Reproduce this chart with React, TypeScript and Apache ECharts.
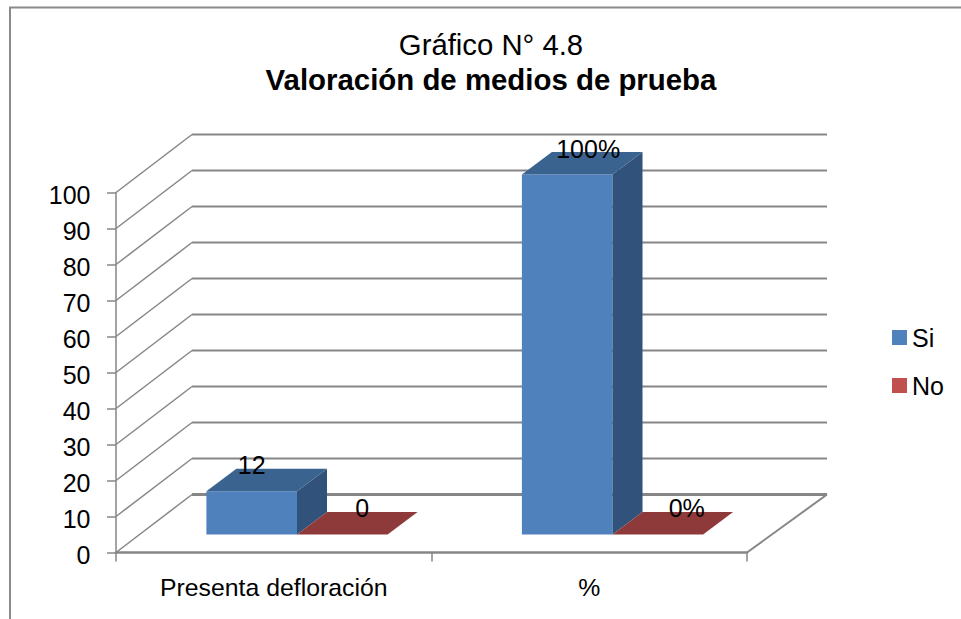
import React, { useEffect, useRef } from "react";
import * as echarts from "echarts";

const categories = ["Presenta defloración", "%"];
const seriesNames = ["Si", "No"];
const siValues = [12, 100];
const noValues = [0, 0];
const siLabels = ["12", "100%"];
const noLabels = ["0", "0%"];
const yTicks = [0, 10, 20, 30, 40, 50, 60, 70, 80, 90, 100];
const titleLine1 = "Gráfico N° 4.8";
const titleLine2 = "Valoración de medios de prueba";

const FONT = '"Liberation Sans", Arial, sans-serif';
const GRID = "#868686";
const WALL_DX = 76;
const WALL_DY = -58;
const WALL_R_EXTRA = 4;
const BASE_DX = 24;
const BASE_DY = -18;
const BAR_DX = 30;
const BAR_DY = -22.5;
const GAP = 66.4;
const BAR_W = 90.6;
const LABEL_SIZE = 25;

const wallItem = (params: any, api: any) => {
  const cs = params.coordSys;
  const v = api.value(1);
  const y = api.coord([0, v])[1];
  const l = cs.x;
  const r = cs.x + cs.width;
  const lineStyle = { stroke: GRID, lineWidth: v === 0 ? 3 : 2, fill: "none" };
  const children: any[] = [
    { type: "line", shape: { x1: l, y1: y, x2: l + WALL_DX, y2: y + WALL_DY }, style: { stroke: GRID, lineWidth: 1.5 } },
    { type: "line", shape: { x1: l + WALL_DX, y1: y + WALL_DY, x2: r + WALL_DX + WALL_R_EXTRA, y2: y + WALL_DY }, style: lineStyle },
  ];
  if (v === 0) {
    children.push({ type: "line", shape: { x1: r, y1: y, x2: r + WALL_DX + WALL_R_EXTRA, y2: y + WALL_DY }, style: { stroke: GRID, lineWidth: 2 } });
  }
  return { type: "group", children };
};

const barItem = (slot: number, front: string, top: string, side: string, labels: string[], labelDx: number[], labelDy: number[]) => (params: any, api: any) => {
  const i = params.dataIndex;
  const val = api.value(1);
  const c0 = api.coord([i, 0]);
  const c1 = api.coord([i, val]);
  const band = api.size([1, 0])[0];
  const x0 = c0[0] - band / 2 + BASE_DX + GAP + slot * BAR_W;
  const x1 = x0 + BAR_W;
  const yb = c0[1] + BASE_DY;
  const yt = c1[1] + BASE_DY;
  const children: any[] = [];
  if (val > 0) {
    children.push({ type: "polygon", shape: { points: [[x0, yb], [x1, yb], [x1, yt], [x0, yt]] }, style: { fill: front } });
    children.push({ type: "polygon", shape: { points: [[x1, yb], [x1 + BAR_DX, yb + BAR_DY], [x1 + BAR_DX, yt + BAR_DY], [x1, yt]] }, style: { fill: side } });
  }
  children.push({ type: "polygon", shape: { points: [[x0, yt], [x1, yt], [x1 + BAR_DX, yt + BAR_DY], [x0 + BAR_DX, yt + BAR_DY]] }, style: { fill: top } });
  children.push({
    type: "text",
    z2: 100,
    style: { text: labels[i], x: (x0 + x1) / 2 + labelDx[i], y: yt + labelDy[i], fill: "#000", font: `${LABEL_SIZE}px ${FONT}`, align: "center", verticalAlign: "middle" },
  });
  return { type: "group", children };
};

export default function App() {
  const ref = useRef<HTMLDivElement>(null);
  useEffect(() => {
    document.body.style.margin = "0";
    const chart = echarts.init(ref.current!, null, { renderer: "svg" });
    chart.setOption({
      animation: false,
      backgroundColor: "#fff",
      textStyle: { fontFamily: FONT },
      title: [
        { text: titleLine1, left: 486, top: 24.5, textAlign: "center", textStyle: { fontFamily: FONT, fontSize: 29.3, fontWeight: "normal", color: "#000" } },
        { text: titleLine2, left: 486, top: 60, textAlign: "center", textStyle: { fontFamily: FONT, fontSize: 29.4, fontWeight: "bold", color: "#000" } },
      ],
      grid: { left: 116, right: 214, top: 192.5, bottom: 66.5, containLabel: false },
      legend: {
        data: seriesNames,
        orient: "vertical",
        left: 887,
        top: 320,
        itemWidth: 15,
        itemHeight: 15,
        itemGap: 23,
        icon: "rect",
        textStyle: { fontFamily: FONT, fontSize: LABEL_SIZE, color: "#000" },
      },
      xAxis: {
        type: "category",
        data: categories,
        axisLine: { lineStyle: { color: GRID, width: 2.5 } },
        axisTick: { show: true, length: 9, alignWithLabel: false, lineStyle: { color: GRID, width: 1.5 } },
        axisLabel: { color: "#000", fontFamily: FONT, fontSize: 24.8, margin: 22 },
      },
      yAxis: {
        type: "value",
        min: 0,
        max: 100,
        interval: 10,
        splitLine: { show: false },
        axisLine: { show: true, lineStyle: { color: GRID, width: 1.5 } },
        axisTick: { show: true, length: 9, lineStyle: { color: GRID, width: 1.5 } },
        axisLabel: { color: "#000", fontFamily: FONT, fontSize: LABEL_SIZE, margin: 25.5, verticalAlign: "top", lineHeight: 5 },
      },
      graphic: [
        { type: "polyline", shape: { points: [[10, 619], [10, 7.5], [961, 7.5]] }, style: { stroke: "#8a8a8a", lineWidth: 2, fill: "none" }, silent: true },
      ],
      series: [
        { type: "custom", name: "walls", silent: true, clip: false, data: yTicks.map((v) => [0, v]), renderItem: wallItem },
        {
          type: "custom", name: seriesNames[0], silent: true, clip: false, itemStyle: { color: "#4F81BD" },
          data: siValues.map((v, i) => [i, v]),
          renderItem: barItem(0, "#4F81BD", "#3B6390", "#31527A", siLabels, [0, 21], [-26, -26]),
        },
        {
          type: "custom", name: seriesNames[1], silent: true, clip: false, itemStyle: { color: "#C0504D" },
          data: noValues.map((v, i) => [i, v]),
          renderItem: barItem(1, "#C0504D", "#8E3A3A", "#8E3A3A", noLabels, [20, 29], [-27, -27]),
        },
      ],
    });
    return () => chart.dispose();
  }, []);
  return <div ref={ref} style={{ width: 961, height: 619 }} />;
}
